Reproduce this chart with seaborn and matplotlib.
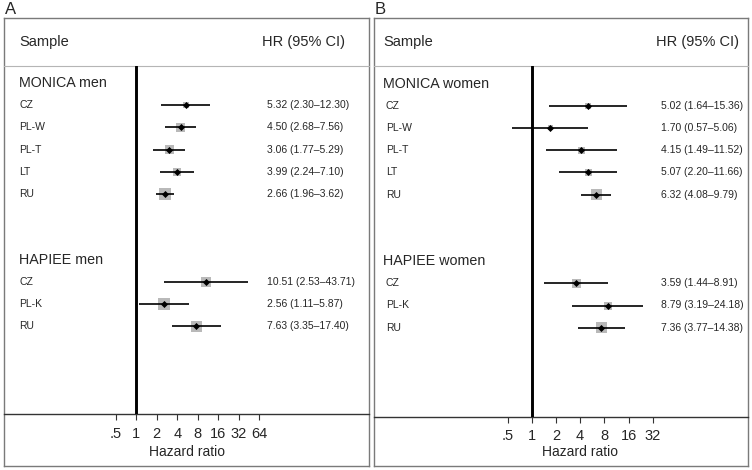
import numpy as np
import pandas as pd
import matplotlib
matplotlib.use("Agg")
import matplotlib.pyplot as plt
import matplotlib.transforms as mtransforms
import seaborn as sns

# Panel A: men
a_mon_lab = ["CZ", "PL-W", "PL-T", "LT", "RU"]
a_mon_hr = [5.32, 4.50, 3.06, 3.99, 2.66]
a_mon_lo = [2.30, 2.68, 1.77, 2.24, 1.96]
a_mon_hi = [12.30, 7.56, 5.29, 7.10, 3.62]
a_mon_wt = [36, 81, 81, 64, 144]

a_hap_lab = ["CZ", "PL-K", "RU"]
a_hap_hr = [10.51, 2.56, 7.63]
a_hap_lo = [2.53, 1.11, 3.35]
a_hap_hi = [43.71, 5.87, 17.40]
a_hap_wt = [100, 144, 121]

# Panel B: women
b_mon_lab = ["CZ", "PL-W", "PL-T", "LT", "RU"]
b_mon_hr = [5.02, 1.70, 4.15, 5.07, 6.32]
b_mon_lo = [1.64, 0.57, 1.49, 2.20, 4.08]
b_mon_hi = [15.36, 5.06, 11.52, 11.66, 9.79]
b_mon_wt = [36, 25, 49, 49, 121]

b_hap_lab = ["CZ", "PL-K", "RU"]
b_hap_hr = [3.59, 8.79, 7.36]
b_hap_lo = [1.44, 3.19, 3.77]
b_hap_hi = [8.91, 24.18, 14.38]
b_hap_wt = [81, 64, 121]

ticks_a = [0.5, 1, 2, 4, 8, 16, 32, 64]
ticks_b = [0.5, 1, 2, 4, 8, 16, 32]
tick_lab_a = [".5", "1", "2", "4", "8", "16", "32", "64"]
tick_lab_b = [".5", "1", "2", "4", "8", "16", "32"]

sns.set_style("white")
plt.rcParams["font.family"] = ["Liberation Sans", "DejaVu Sans"]

W, H = 752, 470
fig = plt.figure(figsize=(W / 100, H / 100), dpi=100)


def frame(df_mon, df_hap):
    df_mon = df_mon.copy()
    df_hap = df_hap.copy()
    df_mon["row"] = np.arange(1, len(df_mon) + 1)
    df_hap["row"] = np.arange(9, 9 + len(df_hap))
    return df_mon, df_hap


def make_df(lab, hr, lo, hi, wt):
    return pd.DataFrame({"lab": lab, "hr": hr, "lo": lo, "hi": hi, "wt": wt})


def panel(letter, x0, x1, axis_y, one_x, ppd, row0, rstep,
          df_mon, df_hap, g1, g2, ticks, tick_lab, lab_dx, head_dx, hr_x, hr_right):
    top, bot, head_y = 18, 466, 66
    # outer box
    box = fig.add_axes([x0 / W, 1 - bot / H, (x1 - x0) / W, (bot - top) / H])
    box.set_xticks([])
    box.set_yticks([])
    for s in box.spines.values():
        s.set_color("#7a7a7a")
        s.set_linewidth(1.0)
    box.patch.set_alpha(0)

    ax = fig.add_axes([x0 / W, 1 - axis_y / H, (x1 - x0) / W, (axis_y - head_y) / H])
    ax.patch.set_alpha(0)
    ax.set_xscale("log", base=2)
    lo_l = (x0 - one_x) / ppd
    hi_l = (x1 - one_x) / ppd

    dm, dh = frame(df_mon, df_hap)
    df = pd.concat([dm, dh], ignore_index=True)

    ax.hlines(df["row"], df["lo"], df["hi"], color="black", lw=1.2, zorder=2)
    sns.scatterplot(data=df, x="hr", y="row", size="wt", sizes=(25 * 0.5184, 144 * 0.5184),
                    size_norm=(25, 144), marker="s", color="#b9b9b9", linewidth=0,
                    legend=False, ax=ax, zorder=1)
    sns.scatterplot(data=df, x="hr", y="row", marker="D", s=13, color="black",
                    linewidth=0, legend=False, ax=ax, zorder=3)
    ax.axvline(1, color="black", lw=2.1, zorder=4)

    ax.set_xlim(2 ** lo_l, 2 ** hi_l)
    ax.set_ylim((axis_y - row0) / rstep, (head_y - row0) / rstep)
    ax.set_yticks([])
    ax.set_xticks(ticks)
    ax.set_xticklabels(tick_lab)
    ax.xaxis.set_minor_locator(matplotlib.ticker.NullLocator())
    ax.tick_params(axis="x", direction="out", length=4.5, width=0.8, pad=4.5,
                   labelsize=10.5, color="#333333", bottom=True)
    for k in ["left", "right"]:
        ax.spines[k].set_visible(False)
    ax.spines["top"].set_color("#b5b5b5")
    ax.spines["top"].set_linewidth(0.8)
    ax.spines["bottom"].set_color("#333333")
    ax.spines["bottom"].set_linewidth(1.0)

    ax.set_ylabel("")
    ax.set_xlabel("Hazard ratio", fontsize=10)
    cx = (np.log2(ticks[0]) + np.log2(ticks[-1])) / 2
    ax.xaxis.set_label_coords((cx - lo_l) / (hi_l - lo_l),
                              (axis_y - 445) / (axis_y - head_y))

    tr = mtransforms.blended_transform_factory(ax.transAxes, ax.transData)
    fx = lambda px: (px - x0) / (x1 - x0)
    ax.text(fx(x0 + head_dx), 0, g1, transform=tr, va="center", fontsize=10.3)
    ax.text(fx(x0 + head_dx), 8, g2, transform=tr, va="center", fontsize=10.3)
    for _, r in df.iterrows():
        ax.text(fx(x0 + lab_dx), r["row"], r["lab"], transform=tr, va="center", fontsize=7.5)
        ax.text(fx(hr_x), r["row"], f"{r['hr']:.2f} ({r['lo']:.2f}\u2013{r['hi']:.2f})",
                transform=tr, va="center", fontsize=7.5)

    fig.text((x0 + head_dx) / W, 1 - 42 / H, "Sample", va="center", fontsize=10.5)
    fig.text(hr_right / W, 1 - 42 / H, "HR (95% CI)", va="center", ha="right", fontsize=10.5)
    fig.text((x0 + 1) / W, 1 - 9 / H, letter, va="center", fontsize=12)


panel("A", 4, 369, 414, 136.3, 20.45, 83.2, 22.1,
      make_df(a_mon_lab, a_mon_hr, a_mon_lo, a_mon_hi, a_mon_wt),
      make_df(a_hap_lab, a_hap_hr, a_hap_lo, a_hap_hi, a_hap_wt),
      "MONICA men", "HAPIEE men", ticks_a, tick_lab_a, 15, 15, 267, 345)

panel("B", 374, 748, 417, 531.7, 24.2, 83.5, 22.2,
      make_df(b_mon_lab, b_mon_hr, b_mon_lo, b_mon_hi, b_mon_wt),
      make_df(b_hap_lab, b_hap_hr, b_hap_lo, b_hap_hi, b_hap_wt),
      "MONICA women", "HAPIEE women", ticks_b, tick_lab_b, 12, 9, 661, 739)

fig.savefig("out.png", dpi=100)
